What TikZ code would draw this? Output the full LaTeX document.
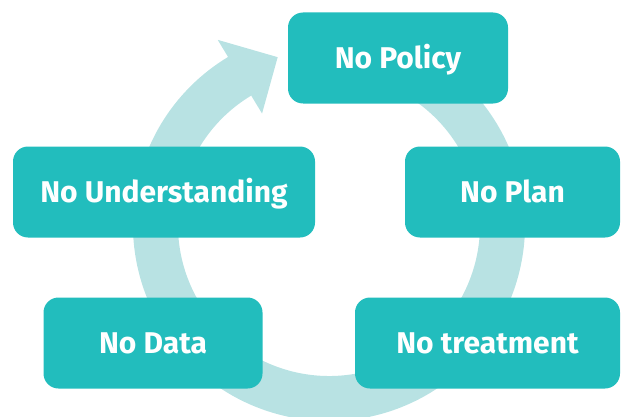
\documentclass[tikz,border=0pt]{standalone}
\usepackage{fontspec}
\usepackage{tikz}
\usetikzlibrary{positioning}
\newfontfamily\cyclefont{Fira Sans}
\definecolor{cycleteal}{HTML}{22BDBD}
\definecolor{cyclering}{HTML}{B8E2E3}

\begin{document}
\begin{tikzpicture}[x=1pt, y=1pt,
    stagebox/.style={rounded corners=15pt, fill=cycleteal, text=white,
      minimum height=91pt, inner sep=0pt, text height=20pt, text depth=0pt,
      font=\cyclefont\bfseries\fontsize{30}{33}\selectfont}]
    \useasboundingbox (0,0) rectangle (621,416);
    \coordinate (hub) at (329,191);
    % ring with its arrow head, drawn first so the boxes cover it
    \begin{scope}[shift={(hub)}]
      \fill[cyclering] (75:196) arc[start angle=75, end angle=-239, radius=196]
        -- (-239:216) -- (-253:175.5) -- (-239:130) -- (-239:151)
        arc[start angle=-239, end angle=75, radius=151] -- cycle;
    \end{scope}
    \node[stagebox, minimum width=220pt] (policy) at (398,358) {No Policy};
    \node[stagebox, minimum width=302pt] (understanding) at (164,224) {No Understanding};
    \node[stagebox, minimum width=215pt] (plan) at (512.5,224) {No Plan};
    \node[stagebox, minimum width=219pt] (data) at (153,73) {No Data};
    \node[stagebox, minimum width=265pt] (treatment) at (487.5,73) {No treatment};
  \end{tikzpicture}
\end{document}
